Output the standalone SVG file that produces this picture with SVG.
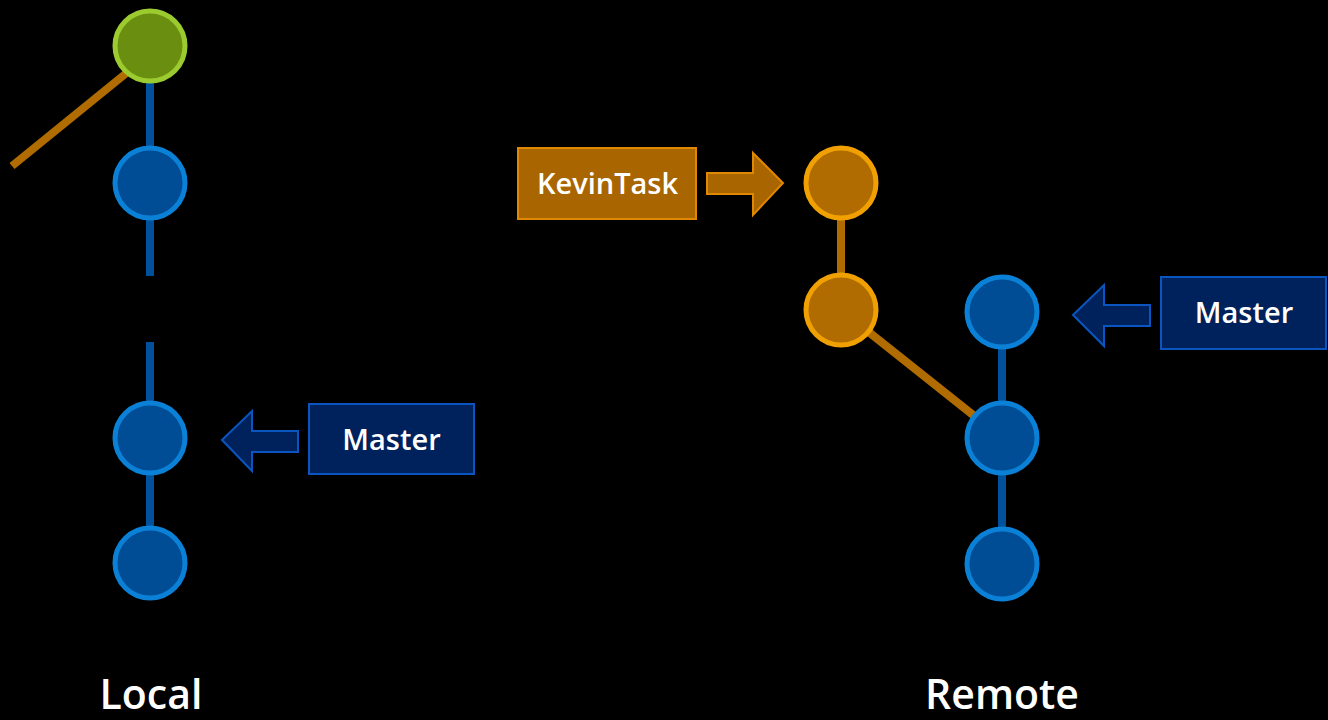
<svg xmlns="http://www.w3.org/2000/svg" width="1328" height="720" viewBox="0 0 1328 720">
<style>
.blink{stroke:#00519c;stroke-width:8;fill:none}
.olink{stroke:#b06c00;stroke-width:8;fill:none}
.bnode{fill:#004d96;stroke:#0a80d6;stroke-width:5}
.onode{fill:#b06c00;stroke:#f0a000;stroke-width:5}
.gnode{fill:#6a8e10;stroke:#9ccb2f;stroke-width:5}
.blabel{fill:#00225c;stroke:#0a55c0;stroke-width:2}
.olabel{fill:#a86500;stroke:#e08800;stroke-width:2}
.lt{font-family:"Open Sans","Liberation Sans",sans-serif;font-weight:600;fill:#ffffff;text-anchor:middle}
</style>
<rect width="1328" height="720" fill="#000000"/>
<g id="connectors">
<line class="olink" x1="12" y1="166" x2="140" y2="62"/>
<line class="blink" x1="150" y1="46" x2="150" y2="276"/>
<line class="blink" x1="150" y1="342" x2="150" y2="563"/>
<line class="olink" x1="841" y1="183" x2="841" y2="310"/>
<line class="olink" x1="841" y1="310" x2="1002" y2="438"/>
<line class="blink" x1="1002" y1="312" x2="1002" y2="564"/>
</g>
<g id="local-c1"><circle class="gnode" cx="150" cy="46" r="35"/></g>
<g id="local-c2"><circle class="bnode" cx="150" cy="183" r="35"/></g>
<g id="local-c3"><circle class="bnode" cx="150" cy="438" r="35"/></g>
<g id="local-c4"><circle class="bnode" cx="150" cy="563" r="35"/></g>
<g id="remote-k1"><circle class="onode" cx="841" cy="183" r="35"/></g>
<g id="remote-k2"><circle class="onode" cx="841" cy="310" r="35"/></g>
<g id="remote-c1"><circle class="bnode" cx="1002" cy="312" r="35"/></g>
<g id="remote-c2"><circle class="bnode" cx="1002" cy="438" r="35"/></g>
<g id="remote-c3"><circle class="bnode" cx="1002" cy="564" r="35"/></g>
<g id="local-master">
<rect class="blabel" x="309" y="404" width="165" height="70"/>
<polygon class="blabel" points="222,440 252,411 252,431 298,431 298,452 252,452 252,471"/>
<text class="lt" x="391.5" y="450" font-size="29">Master</text>
</g>
<g id="kevintask">
<rect class="olabel" x="518" y="148" width="178" height="71"/>
<polygon class="olabel" points="707,173 753,173 753,153 783,183 753,215 753,194 707,194"/>
<text class="lt" x="607.5" y="194" font-size="29">KevinTask</text>
</g>
<g id="remote-master">
<rect class="blabel" x="1161" y="277" width="165" height="72"/>
<polygon class="blabel" points="1073,315 1104,285 1104,305 1150,305 1150,326 1104,326 1104,346"/>
<text class="lt" x="1244" y="323" font-size="29">Master</text>
</g>
<g id="titles">
<text class="lt" x="151" y="709" font-size="41">Local</text>
<text class="lt" x="1002" y="709" font-size="41">Remote</text>
</g>
</svg>
